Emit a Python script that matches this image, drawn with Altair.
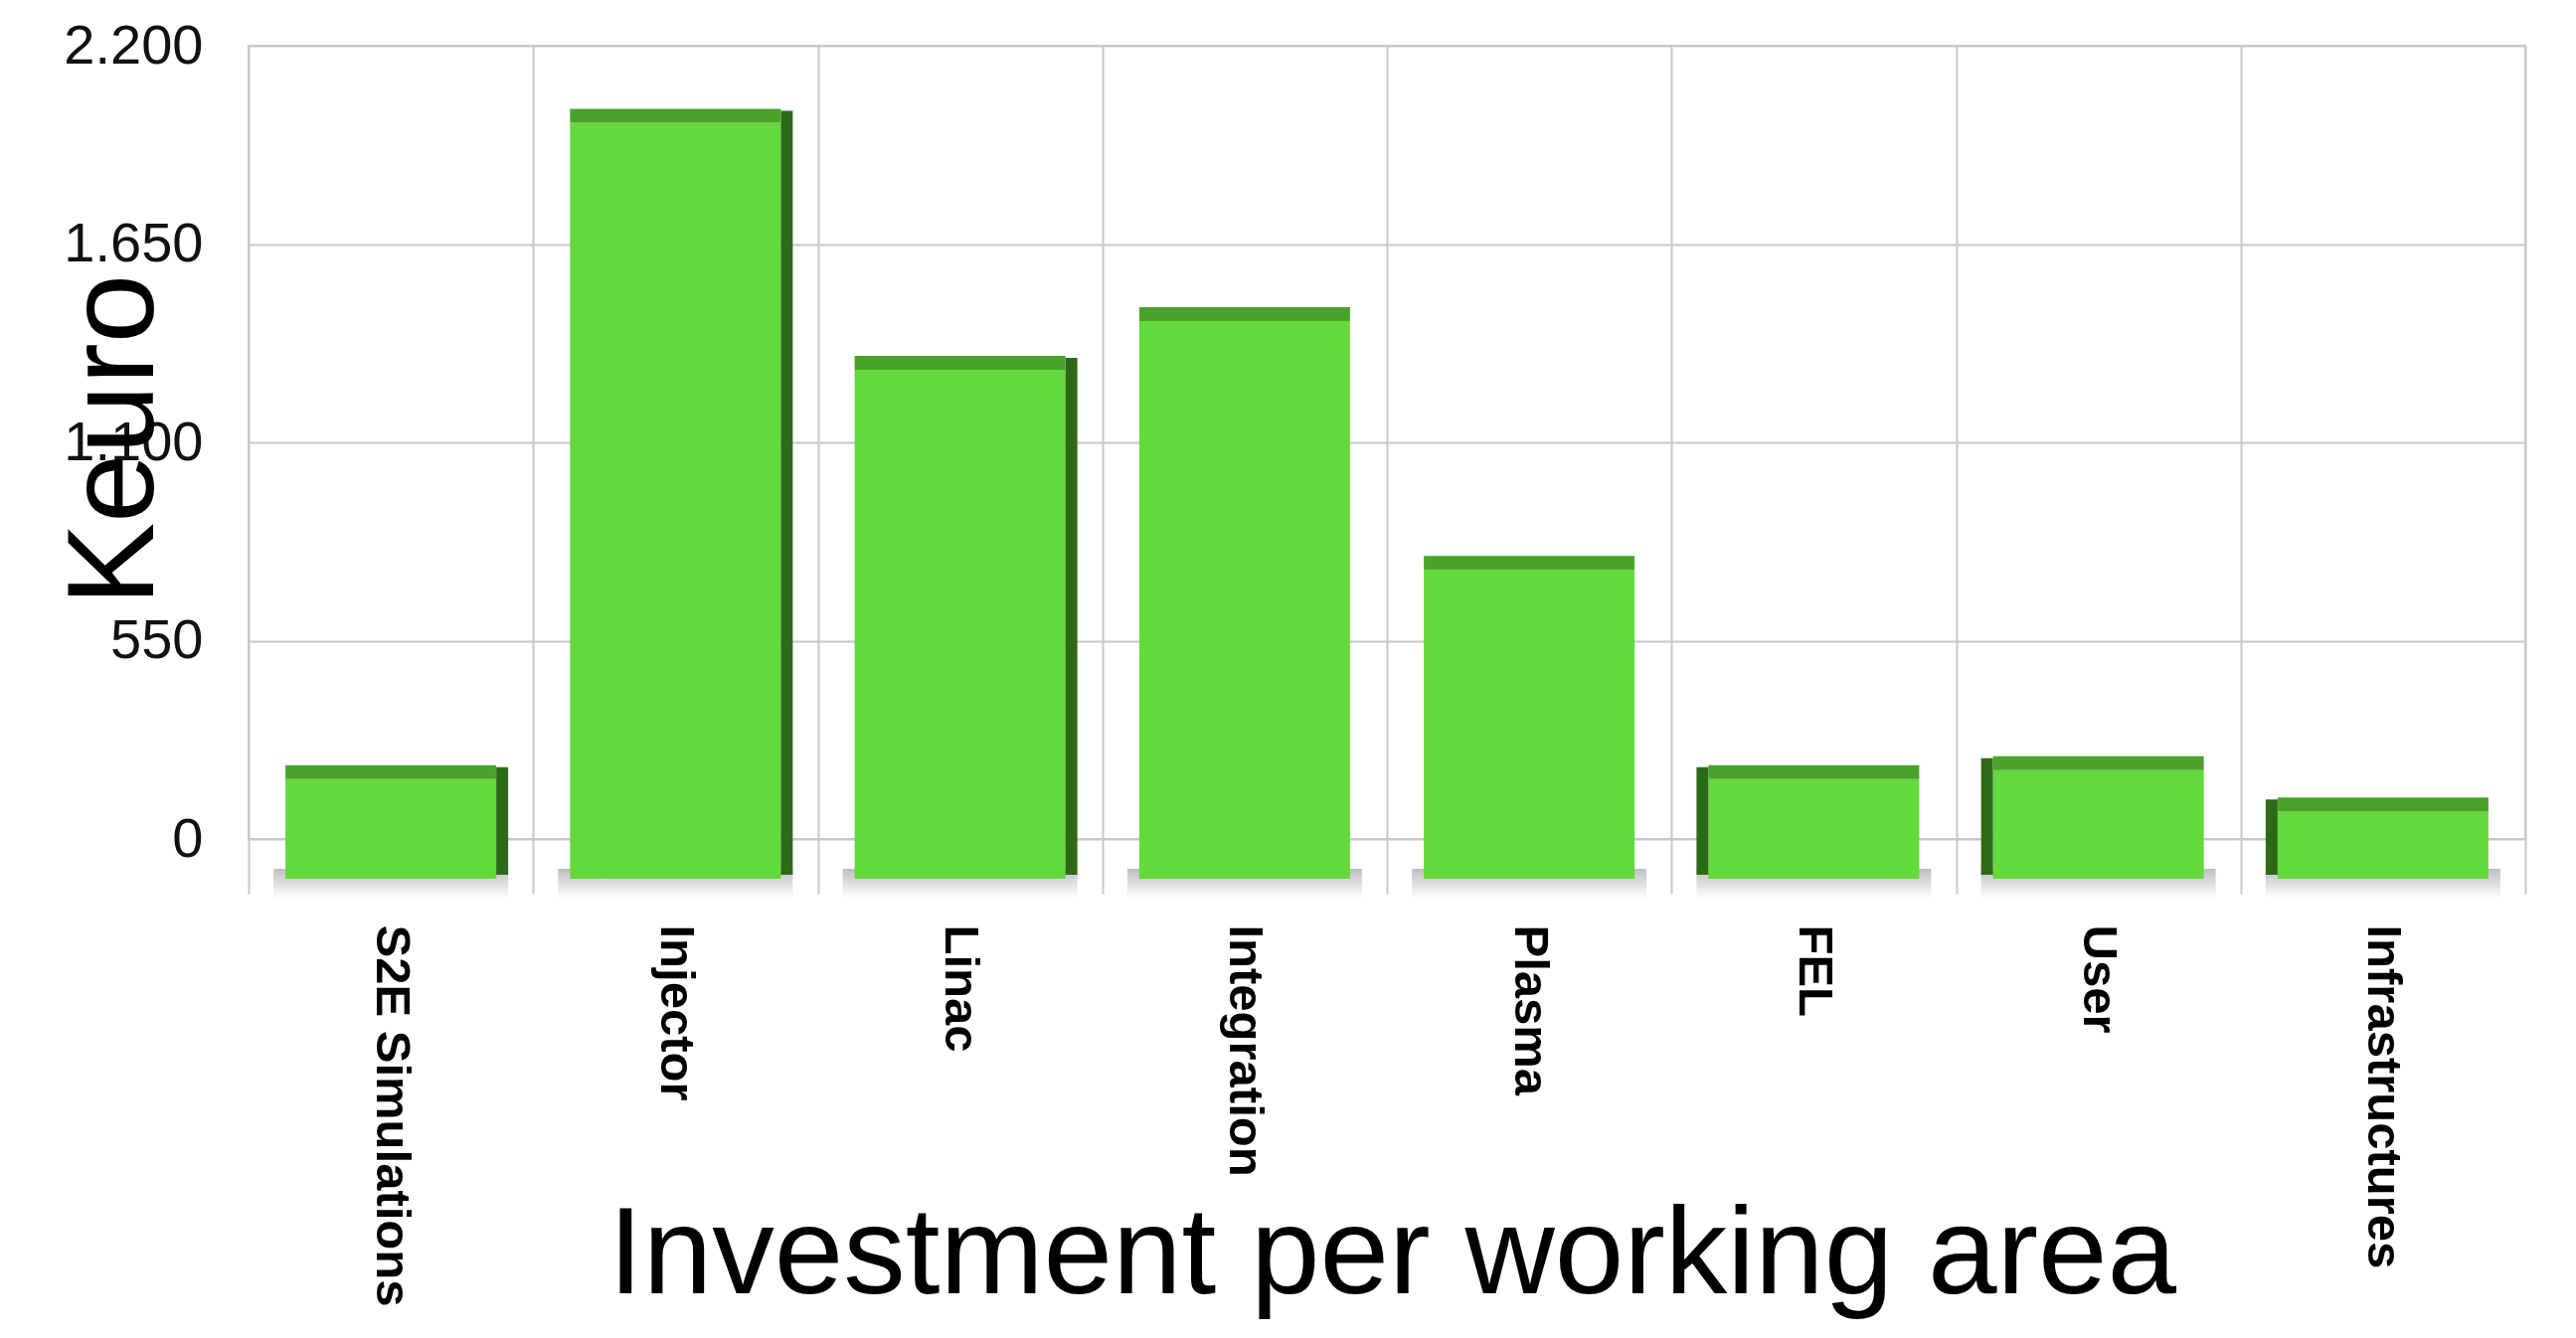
import altair as alt
import pandas as pd

# ---- data ----
categories = ["S2E Simulations", "Injector", "Linac", "Integration",
              "Plasma", "FEL", "User", "Infrastructures"]
values = [180, 2000, 1315, 1450, 760, 180, 205, 90]
y_ticks = [0, 550, 1100, 1650, 2200]
right_side = ["S2E Simulations", "Injector", "Linac"]
left_side = ["FEL", "User", "Infrastructures"]

df = pd.DataFrame({"area": categories, "keuro": values})

FRONT = "#63d93b"
TOP = "#4aa22a"
SIDE = "#2d6a18"
GRID = "#c8c8c8"
BAR_W = 212

x_enc = alt.X(
    "area:N", sort=categories,
    scale=alt.Scale(paddingInner=0, paddingOuter=0),
    axis=alt.Axis(
        title="Investment per working area",
        titleFont="Liberation Sans", titleFontSize=125, titleFontWeight="normal",
        titleColor="#000000", titleY=456, titleX=1150, titleBaseline="alphabetic",
        labelAngle=90, labelFont="Liberation Sans", labelFontWeight="bold",
        labelFontSize=49, labelColor="#000000", labelPadding=31, labelLimit=2000,
        labelAlign="left", labelBaseline="middle",
        domain=False, ticks=True, tickSize=55, tickColor=GRID, tickWidth=2,
        tickBand="extent", grid=True, gridColor=GRID, gridWidth=2,
    ),
)
y_enc = alt.Y(
    "keuro:Q",
    scale=alt.Scale(domain=[0, 2200], nice=False),
    axis=alt.Axis(
        values=y_ticks,
        labelExpr="replace(format(datum.value, ','), ',', '.')",
        title="Keuro", titleFont="Liberation Sans", titleFontSize=125,
        titleFontWeight="normal", titleColor="#000000", titleAngle=270,
        titleX=-97, titleY=396, titleBaseline="alphabetic", titleAlign="center",
        labelFont="Liberation Sans", labelFontSize=56, labelColor="#111111",
        labelPadding=46, ticks=False, domain=False,
        grid=True, gridColor=GRID, gridWidth=2,
    ),
)

base = alt.Chart(df)

shadow = base.mark_bar(
    size=BAR_W + 24, yOffset=30, y2Offset=60, opacity=0.55,
    color=alt.Gradient(gradient="linear",
                       stops=[alt.GradientStop(color="#8a8a8a", offset=0),
                              alt.GradientStop(color="#ffffff", offset=1)],
                       x1=0, x2=0, y1=0, y2=1),
).encode(x=x_enc, y=alt.datum(0), y2=alt.datum(0))

front = base.mark_bar(color=FRONT, size=BAR_W, yOffset=5, y2Offset=40).encode(
    x=x_enc, y=y_enc, y2=alt.datum(0))

top = base.mark_bar(color=TOP, size=BAR_W, yOffset=-9, y2Offset=5).encode(
    x=x_enc, y=alt.Y("keuro:Q"), y2=alt.Y2("keuro:Q"))

side_r = base.transform_filter(
    alt.FieldOneOfPredicate(field="area", oneOf=right_side)
).mark_bar(color=SIDE, size=12, xOffset=BAR_W / 2 + 6, yOffset=-7, y2Offset=36).encode(
    x=x_enc, y=alt.Y("keuro:Q"), y2=alt.datum(0))

side_l = base.transform_filter(
    alt.FieldOneOfPredicate(field="area", oneOf=left_side)
).mark_bar(color=SIDE, size=12, xOffset=-(BAR_W / 2 + 6), yOffset=-7, y2Offset=36).encode(
    x=x_enc, y=alt.Y("keuro:Q"), y2=alt.datum(0))

chart = alt.layer(shadow, front, side_r, side_l, top).properties(
    width=2290, height=798,
    autosize=alt.AutoSizeParams(type="none"),
    padding={"left": 242, "top": 38, "right": 43, "bottom": 484},
    background="white",
).configure_view(stroke=GRID, strokeWidth=2)

chart.save("out.html", embed_options={"renderer": "svg", "actions": False})
